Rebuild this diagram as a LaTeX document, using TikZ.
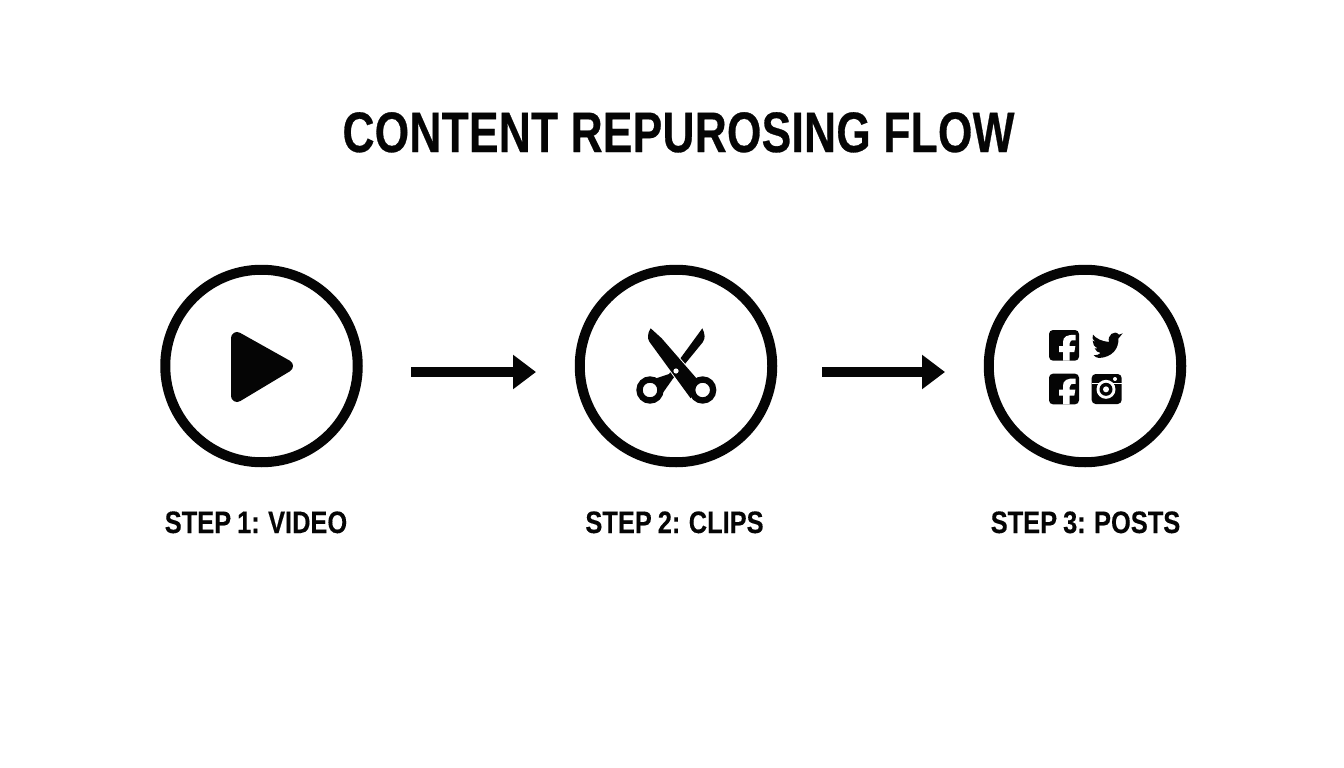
\documentclass[tikz,border=0pt]{standalone}
\usepackage{fontspec}
\setmainfont{Liberation Sans}
\newfontfamily\titlefont[FakeStretch=0.775,LetterSpace=0.6,BoldFeatures={FakeBold=0.5}]{Liberation Sans}
\newfontfamily\stepfont[FakeStretch=0.82,WordSpace=0.85,BoldFeatures={FakeBold=0.25}]{Liberation Sans}
\usetikzlibrary{arrows.meta}
\definecolor{ink}{HTML}{050505}
\tikzset{
  x=1pt,y=-1pt,
  stepcircle/.style={circle,draw=ink,line width=10pt,minimum size=192.5pt,inner sep=0pt,fill=white},
  steplabel/.style={anchor=base,text=ink,font=\stepfont\bfseries\fontsize{31}{31}\selectfont,inner sep=0pt},
  titlelabel/.style={anchor=base,text=ink,font=\titlefont\bfseries\fontsize{57}{57}\selectfont,inner sep=0pt},
  flowarrow/.style={draw=ink,line width=10pt,-{Triangle[length=23pt,width=33pt]}},
  icon/.style={fill=ink,draw=none},
  hole/.style={fill=white,draw=none},
  z3/.style={x=0.33333pt,y=-0.33333pt}
}
\begin{document}
\begin{tikzpicture}
\useasboundingbox (0,0) rectangle (1344,768);
\fill[white] (0,0) rectangle (1344,768);
\node[titlelabel] (title) at (678.5,152) {CONTENT REPUROSING FLOW};
\node[stepcircle] (c1) at (261.5,366) {};
\node[stepcircle] (c2) at (676,366) {};
\node[stepcircle] (c3) at (1085,366) {};
\node[steplabel] (l1) at (256,533) {STEP 1: VIDEO};
\node[steplabel] (l2) at (674.5,533) {STEP 2: CLIPS};
\node[steplabel] (l3) at (1085.5,533) {STEP 3: POSTS};
\coordinate (a1s) at (411,372);
\coordinate (a1e) at (536,372);
\coordinate (a2s) at (822,372);
\coordinate (a2e) at (945,372);
\draw[flowarrow] (a1s) -- (a1e);
\draw[flowarrow] (a2s) -- (a2e);
% play
\filldraw[fill=ink,draw=ink,line width=12pt,line join=round] (237,338) -- (287,366) -- (237,396) -- cycle;
% scissors
\begin{scope}[shift={(620,310)},z3]
\fill[icon] (247,55) .. controls (256,75) and (256,85) .. (248,97) -- (158,207) -- (122,258) -- (108,205) -- (147,192) -- cycle;
\draw[white,line width=2pt] (92,55) -- (125,85) -- (232,208) -- (212,265) -- (88,95) .. controls (82,85) and (82,70) .. (92,55) -- cycle;
\fill[icon] (92,55) -- (125,85) -- (232,208) -- (212,265) -- (88,95) .. controls (82,85) and (82,70) .. (92,55) -- cycle;
\draw[ink,line width=6.3pt] (90,240) circle[radius=10.5pt];
\draw[ink,line width=6.3pt] (248,240) circle[radius=10.5pt];
\fill[hole] (168,183) circle[radius=2.6pt];
\end{scope}
% social icons
\begin{scope}[shift={(1035,320)},z3]
\foreach \oy in {0,131}{
  \begin{scope}[shift={(0,\oy)}]
  \fill[icon,rounded corners=4pt] (42,30) rectangle (132,122);
  \fill[hole] (84,122) -- (84,96) -- (72,96) -- (72,78) -- (84,78) -- (84,66) .. controls (84,50) and (96,43) .. (122,45) -- (122,61) .. controls (108,60) and (104,62) .. (104,70) -- (104,78) -- (121,78) -- (118,96) -- (104,96) -- (104,122) -- cycle;
  \end{scope}
}
% bird
\fill[icon] (263,40) -- (250,56) .. controls (252,85) and (232,112) .. (192,114) .. controls (186,114) and (180,110) .. (176,106) .. controls (184,106) and (192,104) .. (197,99) .. controls (188,98) and (182,92) .. (179,85) -- (188,85) .. controls (178,80) and (172,72) .. (173,62) -- (182,66) .. controls (172,58) and (170,52) .. (174,44) .. controls (184,56) and (200,64) .. (222,66) .. controls (216,46) and (238,28) .. (252,44) -- cycle;
% instagram
\fill[icon,rounded corners=4pt] (170,162) rectangle (260,252);
\fill[hole] (170,188) rectangle (260,193);
\fill[hole] (213,208) circle[radius=9.5pt];
\fill[icon] (213,208) circle[radius=6.5pt];
\fill[hole] (213,208) circle[radius=3pt];
\fill[hole] (240,177) circle[radius=2pt];
\end{scope}
\end{tikzpicture}
\end{document}
